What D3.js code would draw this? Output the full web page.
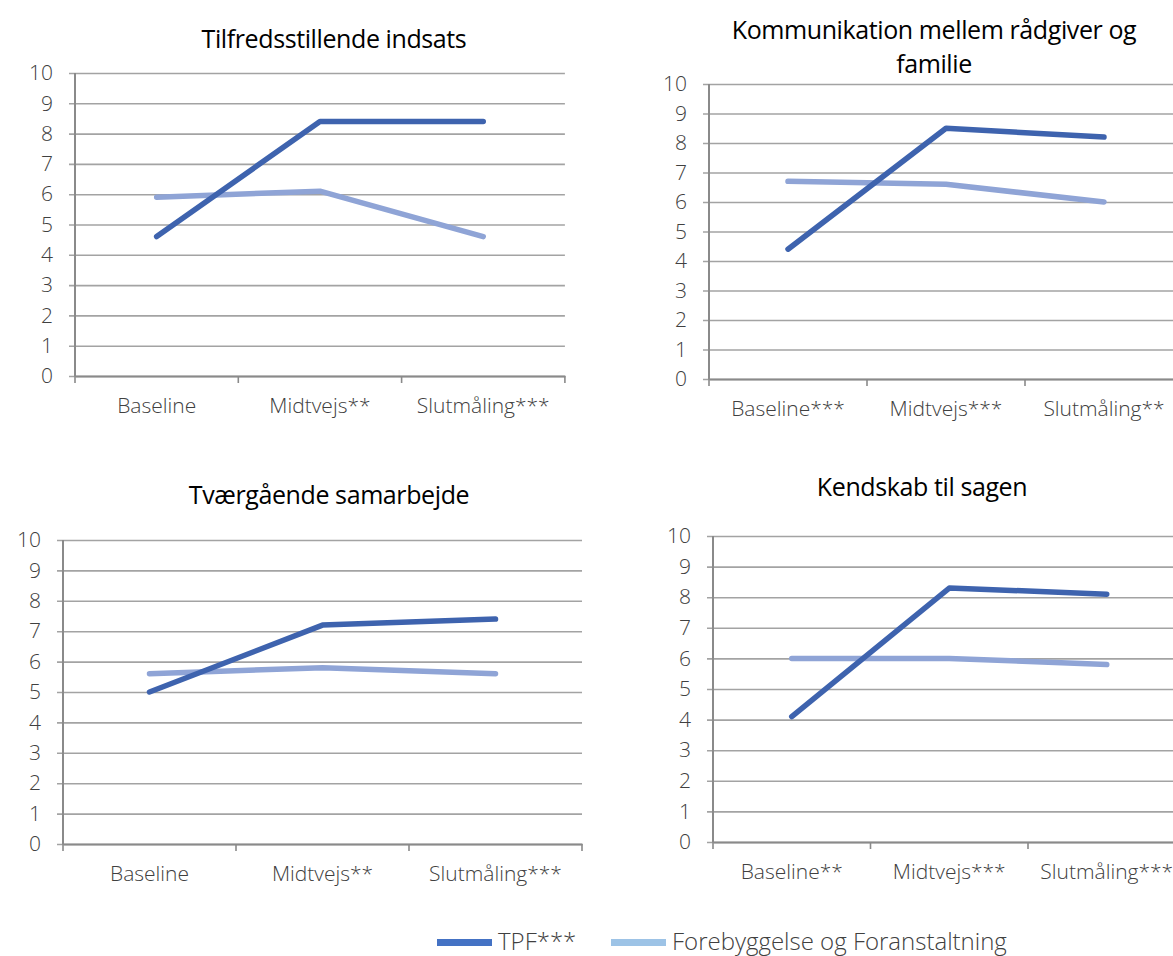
<!DOCTYPE html>
<html>
<head>
<meta charset="utf-8">
<script src="https://cdn.jsdelivr.net/npm/d3@7"></script>
<style>
html,body{margin:0;padding:0;background:#fff;overflow:hidden;}
svg{display:block;font-family:"Open Sans",sans-serif;}
</style>
</head>
<body>
<svg id="c" width="1173" height="956"></svg>
<script>
// ---- data ----
const yTicks = [0,1,2,3,4,5,6,7,8,9,10];
const seriesNames = ["TPF***", "Forebyggelse og Foranstaltning"];

const titles1 = ["Tilfredsstillende indsats"];
const categories1 = ["Baseline", "Midtvejs**", "Slutmåling***"];
const tpf1 = [4.6, 8.4, 8.4];
const ff1  = [5.9, 6.1, 4.6];

const titles2 = ["Kommunikation mellem rådgiver og", "familie"];
const categories2 = ["Baseline***", "Midtvejs***", "Slutmåling**"];
const tpf2 = [4.4, 8.5, 8.2];
const ff2  = [6.7, 6.6, 6.0];

const titles3 = ["Tværgående samarbejde"];
const categories3 = ["Baseline", "Midtvejs**", "Slutmåling***"];
const tpf3 = [5.0, 7.2, 7.4];
const ff3  = [5.6, 5.8, 5.6];

const titles4 = ["Kendskab til sagen"];
const categories4 = ["Baseline**", "Midtvejs***", "Slutmåling***"];
const tpf4 = [4.1, 8.3, 8.1];
const ff4  = [6.0, 6.0, 5.8];

// ---- styles ----
const lineColors = ["#3e63ae", "#8fa4d6"];
const legendColors = ["#4472c4", "#9dc3e6"];
const gridColor = "#a3a3a3";
const axisColor = "#8a8a8a";
const textColor = "#404040";

const svg = d3.select("#c");

const panels = [
  {titles: titles1, cats: categories1, tpf: tpf1, ff: ff1, x0: 75, band: 163.3, yTop: 73, yBot: 376, tcx: 334, tBase: [48]},
  {titles: titles2, cats: categories2, tpf: tpf2, ff: ff2, x0: 709, band: 158, yTop: 84, yBot: 379, tcx: 934, tBase: [39, 73]},
  {titles: titles3, cats: categories3, tpf: tpf3, ff: ff3, x0: 63, band: 173, yTop: 540, yBot: 844, tcx: 329, tBase: [504]},
  {titles: titles4, cats: categories4, tpf: tpf4, ff: ff4, x0: 713, band: 157.5, yTop: 536, yBot: 842, tcx: 922, tBase: [496]}
];

panels.forEach(p => {
  const x1 = p.x0 + p.band * p.cats.length;
  const x = d3.scaleBand().domain(p.cats).range([p.x0, x1]);
  const y = d3.scaleLinear().domain([0, 10]).range([p.yBot, p.yTop]);
  const g = svg.append("g");

  // title
  p.titles.forEach((t, i) => {
    g.append("text").attr("x", p.tcx).attr("y", p.tBase[i])
      .attr("text-anchor", "middle").attr("font-size", 25).attr("fill", "#000")
      .attr("letter-spacing", -0.4)
      .text(t);
  });

  // y axis with gridlines
  const ya = d3.axisLeft(y).tickValues(yTicks).tickSize(-(x1 - p.x0)).tickPadding(22);
  const yg = g.append("g").attr("transform", `translate(${p.x0},0)`).call(ya);
  yg.select(".domain").remove();
  yg.selectAll(".tick line").attr("stroke", gridColor).attr("stroke-width", 1.6).attr("x1", -6);
  yg.selectAll(".tick text").attr("font-size", 21).attr("font-weight", 300)
    .attr("fill", textColor).attr("font-family", '"Open Sans",sans-serif');

  // vertical axis line
  g.append("line").attr("x1", p.x0).attr("x2", p.x0).attr("y1", y(10)).attr("y2", y(0))
    .attr("stroke", axisColor).attr("stroke-width", 2);

  // x axis
  const xa = d3.axisBottom(x).tickSize(0).tickPadding(22);
  const xg = g.append("g").attr("transform", `translate(0,${p.yBot})`).call(xa);
  xg.select(".domain").attr("stroke", axisColor).attr("stroke-width", 2);
  xg.selectAll(".tick text").attr("font-size", 21).attr("font-weight", 300)
    .attr("fill", textColor).attr("font-family", '"Open Sans",sans-serif');
  const edges = p.cats.map(c => x(c)).concat([x1]);
  g.selectAll(".xt").data(edges).enter().append("line")
    .attr("x1", d => d).attr("x2", d => d).attr("y1", p.yBot).attr("y2", p.yBot + 7)
    .attr("stroke", axisColor).attr("stroke-width", 1.6);

  // lines
  const line = d3.line().x((d, i) => x(p.cats[i]) + x.bandwidth() / 2).y(d => y(d));
  [p.ff, p.tpf].forEach((s, k) => {
    g.append("path").datum(s).attr("d", line).attr("fill", "none")
      .attr("stroke", k === 0 ? lineColors[1] : lineColors[0])
      .attr("stroke-width", 5.5).attr("stroke-linecap", "round").attr("stroke-linejoin", "round");
  });
});

// legend
const lg = svg.append("g");
const legendItems = [{x: 437, name: seriesNames[0], color: legendColors[0]}, {x: 611, name: seriesNames[1], color: legendColors[1]}];
legendItems.forEach(it => {
  lg.append("rect").attr("x", it.x).attr("y", 939).attr("width", 55).attr("height", 7).attr("fill", it.color);
  lg.append("text").attr("x", it.x + 61).attr("y", 950).attr("font-size", 24).attr("font-weight", 300)
    .attr("fill", textColor).text(it.name);
});
</script>
</body>
</html>
